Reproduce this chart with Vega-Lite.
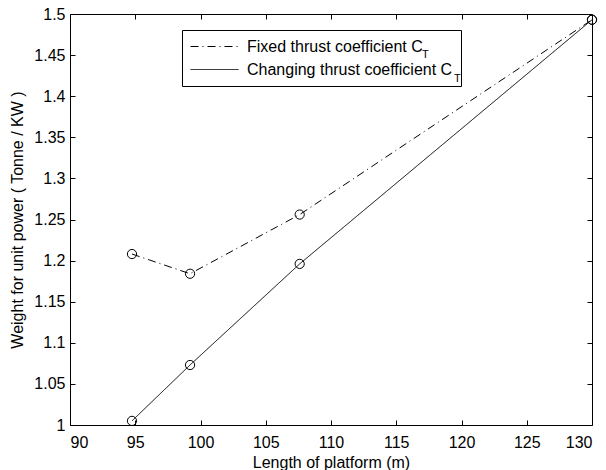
{
  "$schema": "https://vega.github.io/schema/vega-lite/v6.json",
  "width": 522,
  "height": 411,
  "autosize": "none",
  "padding": {"left": 70, "top": 14, "right": 14, "bottom": 45},
  "background": "white",
  "config": {
    "font": "Liberation Sans",
    "view": {"stroke": "black", "strokeWidth": 1},
    "axis": {
      "domain": false,
      "grid": false,
      "tickColor": "black",
      "tickSize": -5,
      "labelColor": "black",
      "titleColor": "black",
      "labelFont": "Liberation Sans",
      "titleFont": "Liberation Sans",
      "labelFontSize": 16,
      "titleFontSize": 16,
      "titleFontWeight": "normal"
    }
  },
  "data": {
    "values": [
      {"series": "Fixed thrust coefficient C", "length": 94.75, "weight": 1.208},
      {"series": "Fixed thrust coefficient C", "length": 99.2, "weight": 1.184},
      {"series": "Fixed thrust coefficient C", "length": 107.6, "weight": 1.256},
      {"series": "Fixed thrust coefficient C", "length": 130, "weight": 1.493},
      {"series": "Changing thrust coefficient C", "length": 94.75, "weight": 1.005},
      {"series": "Changing thrust coefficient C", "length": 99.2, "weight": 1.073},
      {"series": "Changing thrust coefficient C", "length": 107.6, "weight": 1.196},
      {"series": "Changing thrust coefficient C", "length": 130, "weight": 1.493}
    ]
  },
  "layer": [
    {
      "mark": {"type": "line", "color": "black", "strokeWidth": 1},
      "encoding": {
        "x": {
          "field": "length", "type": "quantitative",
          "scale": {"domain": [90, 130], "nice": false, "zero": false},
          "axis": {"values": [90, 95, 100, 105, 110, 115, 120, 125, 130], "title": "Length of platform (m)", "labelPadding": 14, "titlePadding": 4}
        },
        "y": {
          "field": "weight", "type": "quantitative",
          "scale": {"domain": [1, 1.5], "nice": false, "zero": false},
          "axis": {"values": [1, 1.05, 1.1, 1.15, 1.2, 1.25, 1.3, 1.35, 1.4, 1.45, 1.5], "format": "~g", "title": "Weight for unit power ( Tonne / KW )", "labelPadding": 10, "titlePadding": 8}
        },
        "strokeDash": {
          "field": "series", "type": "nominal",
          "scale": {"domain": ["Fixed thrust coefficient C", "Changing thrust coefficient C"], "range": [[8, 4, 1, 4], [1, 0]]},
          "legend": {
            "orient": "none", "legendX": 112, "legendY": 16,
            "title": null,
            "symbolType": "stroke", "symbolSize": 2304, "symbolStrokeColor": "black", "symbolStrokeWidth": 1,
            "clipHeight": 17, "rowPadding": 6,
            "labelFontSize": 16, "labelColor": "black", "labelFont": "Liberation Sans", "labelLimit": 0,
            "strokeColor": "black", "fillColor": "white", "padding": 8, "labelOffset": 8
          }
        },
        "detail": {"field": "series", "type": "nominal"}
      }
    },
    {
      "mark": {"type": "point", "filled": false, "color": "black", "size": 85, "strokeWidth": 1, "opacity": 1},
      "encoding": {
        "x": {"field": "length", "type": "quantitative", "axis": {"orient": "top", "values": [95, 100, 105, 110, 115, 120, 125], "labelOpacity": 0, "labelFontSize": 1, "title": null, "tickSize": -5, "ticks": true, "tickColor": "black", "tickOpacity": 1, "zindex": 1}},
        "y": {"field": "weight", "type": "quantitative", "axis": {"orient": "right", "values": [1.05, 1.1, 1.15, 1.2, 1.25, 1.3, 1.35, 1.4, 1.45], "labelOpacity": 0, "labelFontSize": 1, "title": null, "tickSize": -5, "ticks": true, "tickColor": "black", "tickOpacity": 1, "zindex": 1}},
        "shape": {
          "field": "series", "type": "nominal",
          "scale": {"range": ["circle", "circle"]},
          "legend": {
            "orient": "none", "legendX": 373, "legendY": 59,
            "title": null,
            "values": ["Changing thrust coefficient C"],
            "labelExpr": "\"T\"",
            "symbolSize": 0, "symbolOpacity": 0,
            "labelFontSize": 11, "labelColor": "black", "labelFont": "Liberation Sans",
            "labelOffset": 0, "padding": 0
          }
        }
      }
    },
    {
      "mark": {"type": "point", "size": 85, "opacity": 0},
      "encoding": {
        "x": {"field": "length", "type": "quantitative", "axis": null},
        "y": {"field": "weight", "type": "quantitative", "axis": null},
        "color": {
          "field": "series", "type": "nominal",
          "scale": {"range": ["black", "black"]},
          "legend": {
            "orient": "none", "legendX": 341, "legendY": 35,
            "title": null,
            "values": ["Fixed thrust coefficient C"],
            "labelExpr": "'T'",
            "symbolSize": 0, "symbolOpacity": 0, "symbolStrokeWidth": 0,
            "labelFontSize": 11, "labelColor": "black", "labelFont": "Liberation Sans",
            "labelOffset": 0, "padding": 0
          }
        }
      }
    }
  ],
  "resolve": {"axis": {"x": "independent", "y": "independent"}}
}
